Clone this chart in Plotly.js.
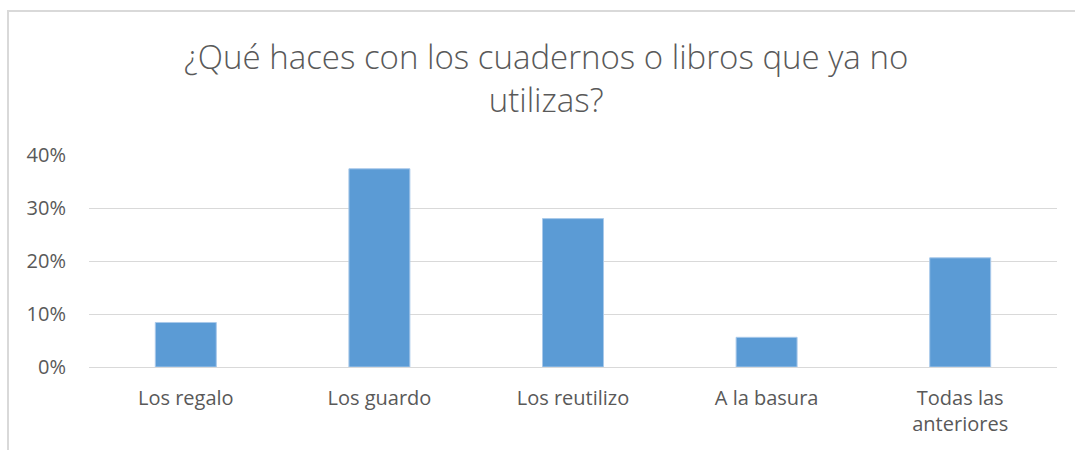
<!DOCTYPE html>
<html>
<head>
<meta charset="utf-8">
<script src="https://cdn.plot.ly/plotly-3.0.1.min.js"></script>
<style>
  html, body { margin: 0; padding: 0; background: #ffffff; }
  #wrap { position: relative; width: 1075px; height: 450px; overflow: hidden; }
  #chart { position: absolute; left: 0; top: 0; width: 1075px; height: 450px; }
  #frame { position: absolute; left: 7px; top: 10px; width: 1080px; height: 460px;
           border-left: 2px solid #d9d9d9; border-top: 2px solid #d9d9d9; pointer-events: none; }
</style>
</head>
<body>
<div id="wrap">
  <div id="chart"></div>
  <div id="frame"></div>
</div>
<script>
const categories = ["Los regalo", "Los guardo", "Los reutilizo", "A la basura", "Todas las<br>anteriores"];
const values = [0.084, 0.374, 0.280, 0.056, 0.206];
const tickValues = [0, 0.1, 0.2, 0.3, 0.4];
const tickLabels = ["0%", "10%", "20%", "30%", "40%"];
const chartTitle = "¿Qué haces con los cuadernos o libros que ya no<br>utilizas?";

const textColor = "#595959";
const fontFamily = "'Open Sans', 'Liberation Sans', sans-serif";

const trace = {
  type: "bar",
  x: categories,
  y: values,
  marker: { color: "#5b9bd5", line: { color: "#a9c9ea", width: 1 } },
  width: 0.315,
  hoverinfo: "x+y"
};

const layout = {
  width: 1075,
  height: 450,
  paper_bgcolor: "#ffffff",
  plot_bgcolor: "#ffffff",
  margin: { l: 89, r: 18, t: 155, b: 83 },
  showlegend: false,
  title: {
    text: chartTitle,
    font: { family: fontFamily, size: 33, color: textColor, weight: 300 },
    x: 0.508,
    xanchor: "center",
    y: 0.846,
    yanchor: "middle"
  },
  xaxis: {
    type: "category",
    showgrid: false,
    showline: true,
    linecolor: "#d9d9d9",
    linewidth: 1,
    ticks: "",
    tickfont: { family: fontFamily, size: 20, color: textColor },
    ticklabelstandoff: 13,
    zeroline: false
  },
  yaxis: {
    range: [0, 0.4],
    tickvals: tickValues,
    ticktext: tickLabels,
    showgrid: true,
    gridcolor: "#d9d9d9",
    gridwidth: 1,
    zeroline: false,
    showline: false,
    ticks: "",
    tickfont: { family: fontFamily, size: 20, color: textColor },
    ticklabelstandoff: 22
  },
  bargap: 0.685
};

Plotly.newPlot("chart", [trace], layout, { displayModeBar: false, staticPlot: true });
</script>
</body>
</html>
